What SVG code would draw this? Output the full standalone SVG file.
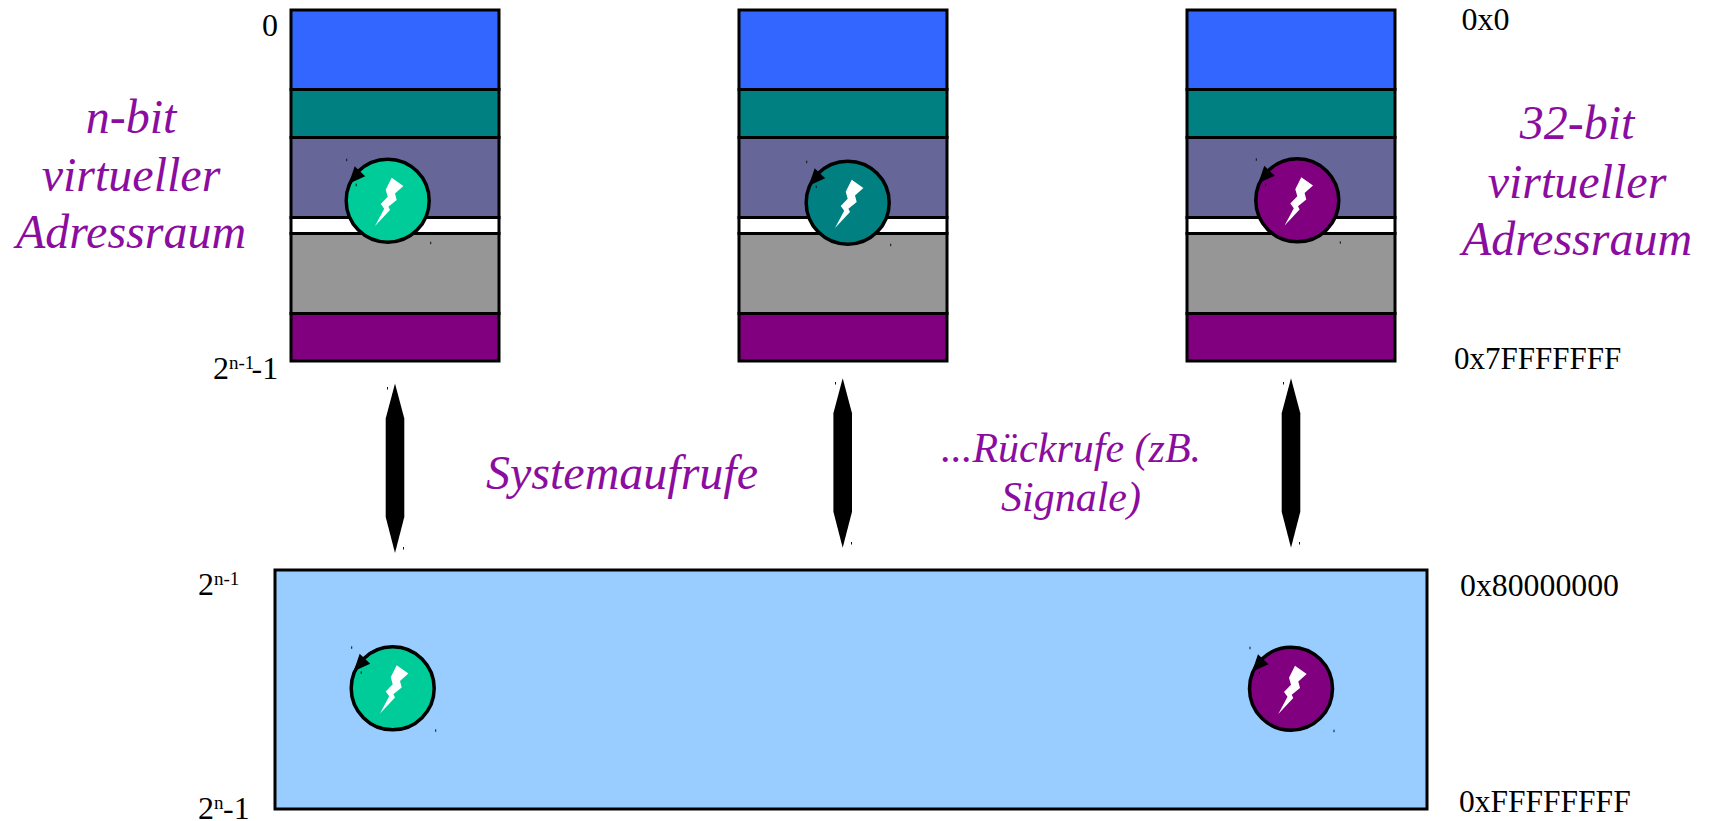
<svg xmlns="http://www.w3.org/2000/svg" width="1712" height="821" viewBox="0 0 1712 821">
<style>
text{font-family:"Liberation Serif","Times New Roman",serif}
.l{font-size:32px;fill:#000}
.s{font-size:19px;fill:#000}
.p{font-size:48px;font-style:italic;fill:#8a0da0}
.q{font-size:42px;font-style:italic;fill:#8a0da0}
.m{text-anchor:middle}
.b{stroke:#000;stroke-width:3}
.c{stroke:#000;stroke-width:3.5}
.d{fill:#111}
</style>
<defs>
<g id="stack">
<rect class="b" x="0" y="10" width="208" height="79.5" fill="#3366ff"/>
<rect class="b" x="0" y="89.5" width="208" height="48" fill="#008080"/>
<rect class="b" x="0" y="137.5" width="208" height="80" fill="#666699"/>
<rect class="b" x="0" y="217.5" width="208" height="16" fill="#ffffff"/>
<rect class="b" x="0" y="233.5" width="208" height="80" fill="#969696"/>
<rect class="b" x="0" y="313.5" width="208" height="47.5" fill="#800080"/>
</g>
<g id="signal">
<polygon fill="#ffffff" points="4,-23 15.7,-14.7 7.3,-7.3 9,-0.7 0.7,6 2.3,9.3 -12.7,25.3 -3.5,8 -7,3.3 0,-4 -2,-11"/>
<polygon fill="#000000" points="-39,-17 -33,-34.5 -22.5,-24.5"/>
<rect class="d" x="-41.5" y="-42" width="1" height="2.5"/>
<rect class="d" x="-32" y="-17" width="1" height="2.5"/>
<rect class="d" x="42.5" y="41" width="1" height="2.5"/>
</g>
<polygon id="arrow" points="0,0 9.3,35 9.3,133.5 0,169.5 -9.3,133.5 -9.3,35"/>
</defs>

<g id="stack-1"><use href="#stack" x="291"/></g>
<g id="stack-2"><use href="#stack" x="739"/></g>
<g id="stack-3"><use href="#stack" x="1187"/></g>

<g id="kernel"><rect x="275" y="570" width="1152" height="239" fill="#99ccff" stroke="#000" stroke-width="3"/></g>

<g id="signal-1"><circle class="c" cx="387.7" cy="200.7" r="41.5" fill="#00cc99"/><use href="#signal" x="387.7" y="200.7"/></g>
<g id="signal-2"><circle class="c" cx="847.7" cy="202.7" r="41.5" fill="#008080"/><use href="#signal" x="847.7" y="202.7"/></g>
<g id="signal-3"><circle class="c" cx="1297.3" cy="200.3" r="41.5" fill="#800080"/><use href="#signal" x="1297.3" y="200.3"/></g>
<g id="signal-4"><circle class="c" cx="392.7" cy="688.3" r="41.5" fill="#00cc99"/><use href="#signal" x="392.7" y="688.3"/></g>
<g id="signal-5"><circle class="c" cx="1291" cy="688.7" r="41.5" fill="#800080"/><use href="#signal" x="1291" y="688.7"/></g>

<g id="connectors">
<use href="#arrow" x="395" y="383.5"/>
<use href="#arrow" x="842.7" y="378.3"/>
<use href="#arrow" x="1291" y="378.3"/>
<rect class="d" x="387" y="387" width="1" height="2.5"/>
<rect class="d" x="403" y="547" width="1" height="2.5"/>
<rect class="d" x="835" y="382" width="1" height="2.5"/>
<rect class="d" x="851" y="542" width="1" height="2.5"/>
<rect class="d" x="1283" y="382" width="1" height="2.5"/>
<rect class="d" x="1299" y="542" width="1" height="2.5"/>
</g>

<g id="labels-left">
<text class="l" x="262" y="36">0</text>
<text class="l" x="213" y="379">2</text><text class="s" x="229" y="369">n-1</text><text class="l" x="251.5" y="379">-1</text>
<text class="l" x="198" y="595">2</text><text class="s" x="214" y="585">n-1</text>
<text class="l" x="198" y="819">2</text><text class="s" x="214" y="809">n</text><text class="l" x="223" y="819">-1</text>
</g>
<g id="labels-right">
<text class="l" x="1461.5" y="30">0x0</text>
<text class="l" x="1454" y="369" style="font-size:31px">0x7FFFFFFF</text>
<text class="l" x="1460" y="596" style="font-size:31.8px">0x80000000</text>
<text class="l" x="1459" y="812" style="font-size:31.5px">0xFFFFFFFF</text>
</g>
<g id="titles">
<text class="p m" x="131" y="133">n-bit</text>
<text class="p m" x="131" y="191">virtueller</text>
<text class="p m" x="131" y="248">Adressraum</text>
<text class="p m" x="1577" y="139">32-bit</text>
<text class="p m" x="1577" y="198">virtueller</text>
<text class="p m" x="1577" y="255">Adressraum</text>
<text class="p" x="486" y="489">Systemaufrufe</text>
<text class="q m" x="1071" y="462">...Rückrufe (zB.</text>
<text class="q m" x="1071" y="511">Signale)</text>
</g>
</svg>
